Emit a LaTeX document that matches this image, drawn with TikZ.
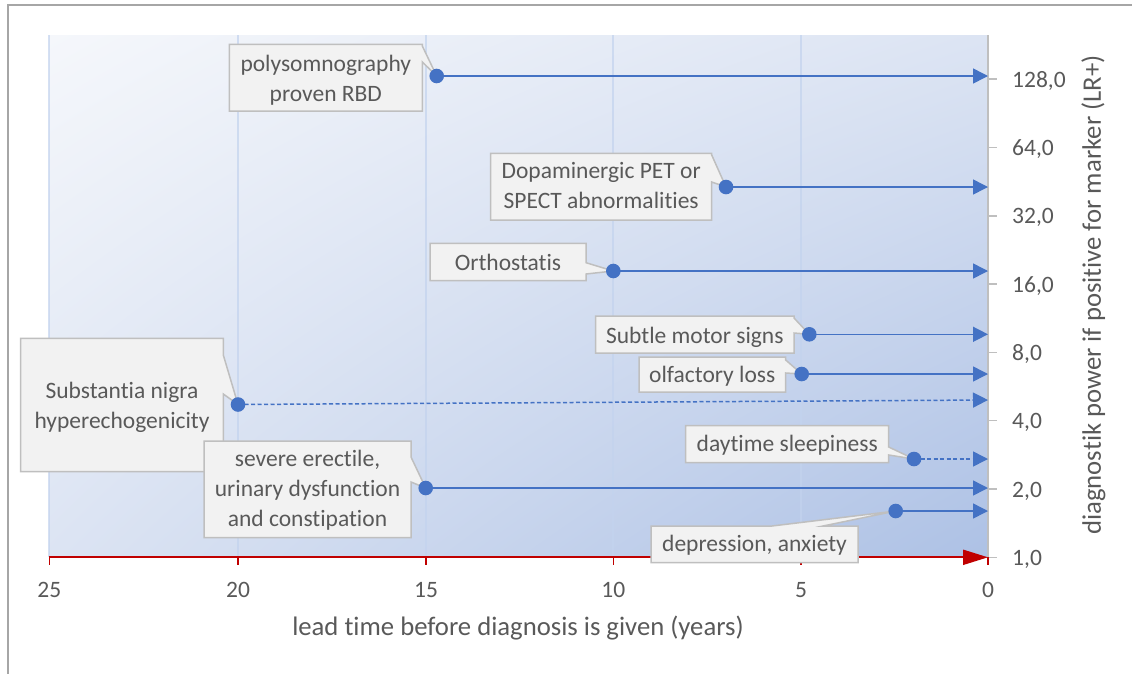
\documentclass[tikz,border=0pt]{standalone}
\usepackage{fontspec}
\setmainfont{Carlito}[Ligatures=NoCommon]
\usetikzlibrary{arrows.meta,shadings}

\definecolor{txt}{HTML}{595959}
\definecolor{seriesblue}{HTML}{4472C4}
\definecolor{axisred}{HTML}{C00000}
\definecolor{axisgray}{HTML}{BFBFBF}
\definecolor{boxfill}{HTML}{F2F2F2}
\definecolor{boxline}{HTML}{BFBFBF}
\definecolor{framegray}{HTML}{A6A6A6}
\definecolor{bgTL}{HTML}{F5F7FB}
\definecolor{bgTR}{HTML}{DCE4F3}
\definecolor{bgBL}{HTML}{DCE4F3}
\definecolor{bgBR}{HTML}{ADC1E5}
\definecolor{gridblue}{HTML}{C3D3EE}

% multi-line label whose baseline is the first line
\newcommand\cellstack[1]{\begin{tabular}[t]{@{}c@{}}#1\end{tabular}}

\tikzset{
  lbl/.style={font=\fontsize{23.5}{30}\selectfont, text=txt, inner sep=0pt},
  axistitle/.style={font=\fontsize{26.7}{32}\selectfont, text=txt, inner sep=0pt},
  callout/.style={fill=boxfill, draw=boxline, line width=1.5pt, line join=miter},
  marker/.style={line width=1.5pt, draw=seriesblue,
                 -{Triangle[length=15pt,width=15pt]}},
  dashedmarker/.style={marker, dash pattern=on 4pt off 2.5pt},
  markdot/.style={fill=seriesblue},
  gridline/.style={draw=gridblue, line width=2pt, opacity=0.7},
}

\begin{document}
\begin{tikzpicture}[x=1pt, y=-1pt]
\useasboundingbox (0,0) rectangle (1132,673);
\clip (0,0) rectangle (1132,673);

% chart frame (right and bottom edges lie outside the page)
\draw[framegray, line width=2pt] (8.3,690) -- (8.3,5) -- (1150,5);

% plot area
\shade[shading=bilinear interpolation,
       upper left=bgTL, upper right=bgTR, lower left=bgBL, lower right=bgBR]
  (49.3,35) rectangle (988,557.3);

% vertical gridlines every 5 years
\foreach \gx in {49.3,238,426,613.3,801}
  \draw[gridline] (\gx,35) -- (\gx,557.3);

% right (log) axis
\draw[axisgray, line width=1.5pt] (988,35) -- (988,557.3);
\foreach \v/\ty in {1/557.3, 2/489, 4/420.7, 8/352.4, 16/284.1, 32/215.8, 64/147.5, 128/79.2}{
  \draw[axisgray, line width=1.5pt] (988,\ty) -- (997,\ty);
  \node[lbl, anchor=base west] at (1012,\ty+8) {\v,0};
}
\node[axistitle, rotate=90] (ytitle) at (1093.5,295) {diagnostik power if positive for marker (LR+)};

% time axis
\coordinate (t25) at (49.3,557.3);
\coordinate (t0) at (988,557.3);
\foreach \gx in {49.3,238,426,613.3,801,988}
  \draw[axisred, line width=1.5pt] (\gx,557.3) -- (\gx,565);
\draw[axisred, line width=2pt, -{Triangle[length=25pt,width=15pt]}] (t25) -- (t0);
\foreach \gx/\yr in {49.3/25,238/20,426/15,613.3/10,801/5,988/0}
  \node[lbl, anchor=base] at (\gx,597) {\yr};
\node[axistitle, anchor=base] (xtitle) at (518,635) {lead time before diagnosis is given (years)};

% marker onset points and the ends of their arrows
\coordinate (rbd) at (436.7,76);      \coordinate (rbd-end) at (988,76);
\coordinate (dat) at (726,187);       \coordinate (dat-end) at (988,187);
\coordinate (orth) at (613.3,271);    \coordinate (orth-end) at (988,271);
\coordinate (motor) at (809.3,334.3); \coordinate (motor-end) at (988,334.3);
\coordinate (olf) at (801.7,374);     \coordinate (olf-end) at (988,374);
\coordinate (snh) at (238,404.5);     \coordinate (snh-end) at (988,400);
\coordinate (sleep) at (914,459);     \coordinate (sleep-end) at (988,459);
\coordinate (auto) at (425.7,488);    \coordinate (auto-end) at (988,488);
\coordinate (dep) at (895.7,511);     \coordinate (dep-end) at (988,511);

\draw[marker] (rbd) -- (rbd-end);
\draw[marker] (dat) -- (dat-end);
\draw[marker] (orth) -- (orth-end);
\draw[marker] (motor) -- (motor-end);
\draw[marker] (olf) -- (olf-end);
\draw[dashedmarker] (snh) -- (snh-end);
\draw[dashedmarker] (sleep) -- (sleep-end);
\draw[marker] (auto) -- (auto-end);
\draw[marker] (dep) -- (dep-end);

% callouts
\path[callout] (229.3,44.3) -- (422.3,44.3) -- (422.3,46) -- (rbd) -- (422.3,62) -- (422.3,111) -- (229.3,111) -- cycle;
\node[lbl, anchor=base] (rbd-label) at (325.8,71) {\cellstack{polysomnography\\proven RBD}};

\path[callout] (490.7,153.3) -- (711.7,153.3) -- (711.7,155) -- (dat) -- (711.7,182) -- (711.7,220) -- (490.7,220) -- cycle;
\node[lbl, anchor=base] (dat-label) at (601.2,178.8) {\cellstack{Dopaminergic PET or\\SPECT abnormalities}};

\path[callout] (430,243.3) -- (586,243.3) -- (586,262.7) -- (orth) -- (586,274) -- (586,280.7) -- (430,280.7) -- cycle;
\node[lbl, anchor=base] (orth-label) at (508,270) {Orthostatis};

\path[callout] (595.7,316) -- (794,316) -- (794,318) -- (motor) -- (794,333) -- (794,353) -- (595.7,353) -- cycle;
\node[lbl, anchor=base] (motor-label) at (694.8,343) {Subtle motor signs};

\path[callout] (639,357) -- (785.7,357) -- (785.7,360) -- (olf) -- (785.7,373) -- (785.7,392) -- (639,392) -- cycle;
\node[lbl, anchor=base] (olf-label) at (712.3,382) {olfactory loss};

\path[callout] (20.7,338.3) -- (223.3,338.3) -- (223.3,355) -- (snh) -- (223.3,394) -- (223.3,471.7) -- (20.7,471.7) -- cycle;
\node[lbl, anchor=base] (snh-label) at (122,398) {\cellstack{Substantia nigra\\hyperechogenicity}};

\path[callout] (204,441) -- (411,441) -- (411,457) -- (auto) -- (411,482) -- (411,537.7) -- (204,537.7) -- cycle;
\node[lbl, anchor=base] (auto-label) at (307.5,466.8) {\cellstack{severe erectile,\\urinary dysfunction\\and constipation}};

\path[callout] (685.7,425.7) -- (888.7,425.7) -- (888.7,447) -- (sleep) -- (888.7,455) -- (888.7,462.7) -- (685.7,462.7) -- cycle;
\node[lbl, anchor=base] (sleep-label) at (787.2,451.7) {daytime sleepiness};

\path[callout] (651,526) -- (772,526) -- (dep) -- (823,526) -- (858,526) -- (858,562.7) -- (651,562.7) -- cycle;
\node[lbl, anchor=base] (dep-label) at (754.5,551.7) {depression, anxiety};

% onset dots on top
\foreach \p in {rbd,dat,orth,motor,olf,snh,sleep,auto,dep}
  \fill[markdot] (\p) circle (7.3pt);
\end{tikzpicture}
\end{document}
